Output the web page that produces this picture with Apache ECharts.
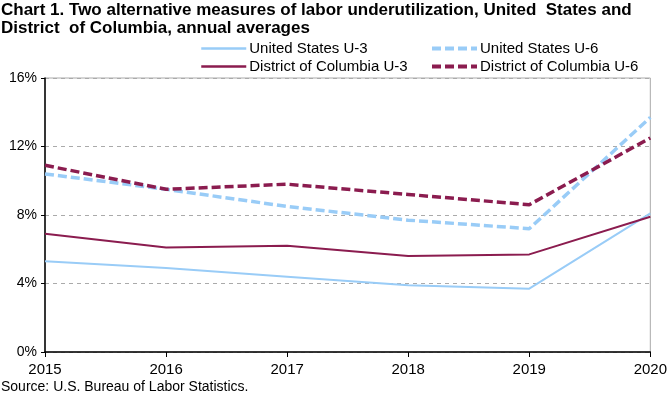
<!DOCTYPE html>
<html><head><meta charset="utf-8">
<script src="https://cdn.jsdelivr.net/npm/echarts@6/dist/echarts.min.js"></script>
<style>html,body{margin:0;padding:0;background:#fff}#c{width:670px;height:394px}</style>
</head><body><div id="c"></div>
<script>
var years = ['2015','2016','2017','2018','2019','2020'];
var usU3 = [5.3, 4.9, 4.4, 3.9, 3.7, 8.1];
var usU6 = [10.4, 9.5, 8.5, 7.7, 7.2, 13.7];
var dcU3 = [6.9, 6.1, 6.2, 5.6, 5.7, 7.9];
var dcU6 = [10.9, 9.5, 9.8, 9.2, 8.6, 12.5];
var seriesNames = ['United States U-3','United States U-6','District of Columbia U-3','District of Columbia U-6'];
var FONT = '"Liberation Sans", Arial, sans-serif';
var blue = '#99ccf7', maroon = '#8b1c4f';
var chart = echarts.init(document.getElementById('c'), null, {renderer:'canvas'});
function mk(name, data, color, dashed){
  return {name:name, type:'line', data:data, symbol:'none', smooth:false,
    lineStyle:{color:color, width: dashed?3.5:2, type: dashed?[9,4]:'solid'},
    itemStyle:{color:color}};
}
function lg(name, left, top, dashed){
  return {data:[name], left:left, top:top, itemWidth:45, itemHeight:10, itemGap:0,
    padding:0, itemStyle:{opacity:0}, lineStyle:{width: dashed?4:2.5},
    textStyle:{fontFamily:FONT, fontSize:15, color:'#000', padding:[0,0,0,-2]}};
}
chart.setOption({
  animation:false,
  title:{text:'Chart 1. Two alternative measures of labor underutilization, United  States and\nDistrict  of Columbia, annual averages',
    left:1, top:1, padding:0, textStyle:{fontFamily:FONT, fontWeight:'bold', fontSize:17, color:'#000', lineHeight:18}},
  legend:[lg(seriesNames[0],200,41,false), lg(seriesNames[1],430,41,true), lg(seriesNames[2],200,59,false), lg(seriesNames[3],430,59,true)],
  grid:{left:45, right:18, top:78, bottom:42, show:true, borderColor:'#aaa', borderWidth:1},
  xAxis:{type:'category', data:years, boundaryGap:false,
    axisLine:{lineStyle:{color:'#000', width:1.5}},
    axisTick:{show:true, length:5, lineStyle:{color:'#000'}},
    axisLabel:{fontFamily:FONT, fontSize:15, color:'#000', margin:10},
    splitLine:{show:false}},
  yAxis:{type:'value', min:0, max:16, interval:4,
    axisLine:{show:true, lineStyle:{color:'#000', width:1.5}},
    axisTick:{show:true, length:4, lineStyle:{color:'#000'}},
    axisLabel:{fontFamily:FONT, fontSize:14, color:'#000', margin:8, formatter:'{value}%'},
    splitLine:{show:true, lineStyle:{color:'#aaa', type:[4,4], width:1}}},
  graphic:[{type:'text', left:1, top:380, style:{text:'Source: U.S. Bureau of Labor Statistics.', font:'14px '+FONT, fill:'#000'}}],
  series:[mk(seriesNames[0], usU3, blue, false), mk(seriesNames[1], usU6, blue, true),
          mk(seriesNames[2], dcU3, maroon, false), mk(seriesNames[3], dcU6, maroon, true)]
});
</script></body></html>
